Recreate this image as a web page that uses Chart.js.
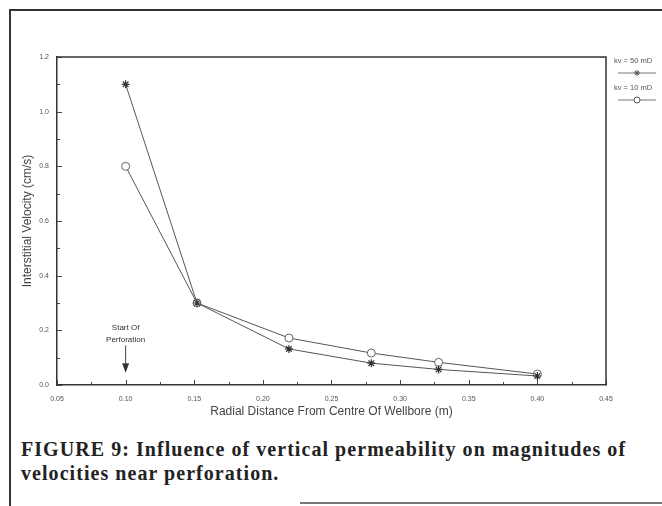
<!DOCTYPE html>
<html>
<head>
<meta charset="utf-8">
<script src="https://cdn.jsdelivr.net/npm/chart.js@4"></script>
<style>
  body { margin: 0; background: #fff; }
  #page { position: relative; width: 662px; height: 506px; overflow: hidden; }
  #wrap { position: absolute; left: 0; top: 0; width: 662px; height: 430px; }
  .frame-top { position: absolute; left: 9px; top: 9px; width: 660px; height: 2px; background: #333; }
  .frame-left { position: absolute; left: 9px; top: 9px; width: 2px; height: 500px; background: #333; }
  .frame-bottom { position: absolute; left: 300px; top: 502px; width: 362px; height: 2px; background: #777; }
  #caption { position: absolute; left: 21px; top: 437px; font-family: "Liberation Serif", "DejaVu Serif", serif;
    font-weight: bold; font-size: 20px; letter-spacing: 1.05px; line-height: 24px; color: #222; white-space: nowrap; }
</style>
</head>
<body>
<div id="page">
  <div class="frame-top"></div>
  <div class="frame-left"></div>
  <div class="frame-bottom"></div>
  <div id="wrap"><canvas id="velChart"></canvas></div>
  <div id="caption">FIGURE 9: Influence of vertical permeability on magnitudes of<br>velocities near perforation.</div>
</div>
<script>
// radial distance (m)
var radius = [0.10, 0.152, 0.219, 0.279, 0.328, 0.40];
// interstitial velocity (cm/s)
var kv50 = [1.10, 0.30, 0.132, 0.08, 0.057, 0.033];
var kv10 = [0.80, 0.30, 0.172, 0.117, 0.083, 0.04];
var seriesLabels = ["kv = 50 mD", "kv = 10 mD"];
var xTicks = [0.05, 0.10, 0.15, 0.20, 0.25, 0.30, 0.35, 0.40, 0.45];
var yTicks = [0.0, 0.2, 0.4, 0.6, 0.8, 1.0, 1.2];

function toPoints(xs, ys) {
    return xs.map(function (x, i) { return { x: x, y: ys[i] }; });
}

var lineColor = "#555";
var smallFont = "'Liberation Sans', Arial, sans-serif";

// inner tick marks, legend and the "Start Of Perforation" note
var extras = {
    id: "extras",
    afterDraw: function (chart) {
        var ctx = chart.ctx;
        var xs = chart.scales.x, ys = chart.scales.y;
        var a = chart.chartArea;
        ctx.save();
        ctx.strokeStyle = "#444";
        ctx.lineWidth = 1;
        // y ticks (major every 0.2, minor every 0.1)
        for (var v = 0; v <= 1.2001; v += 0.1) {
            var py = Math.round(ys.getPixelForValue(v)) + 0.5;
            var major = Math.round(v * 10) % 2 === 0;
            ctx.beginPath();
            ctx.moveTo(a.left, py);
            ctx.lineTo(a.left + (major ? 5 : 3), py);
            ctx.stroke();
        }
        // x ticks (major every 0.05, minor every 0.025)
        for (var u = 0.05; u <= 0.4501; u += 0.025) {
            var px = Math.round(xs.getPixelForValue(u)) + 0.5;
            var maj = Math.round(u * 1000) % 50 === 0;
            ctx.beginPath();
            ctx.moveTo(px, a.bottom);
            ctx.lineTo(px, a.bottom - (maj ? 5 : 3));
            ctx.stroke();
        }

        // start of perforation
        var ax = xs.getPixelForValue(radius[0]);
        ctx.fillStyle = "#333";
        ctx.font = "8px " + smallFont;
        ctx.textAlign = "center";
        ctx.textBaseline = "middle";
        ctx.fillText("Start Of", ax, ys.getPixelForValue(0.21));
        ctx.fillText("Perforation", ax, ys.getPixelForValue(0.165));
        ctx.beginPath();
        ctx.moveTo(ax, ys.getPixelForValue(0.145));
        ctx.lineTo(ax, ys.getPixelForValue(0.08));
        ctx.stroke();
        ctx.beginPath();
        ctx.moveTo(ax - 3.5, ys.getPixelForValue(0.08));
        ctx.lineTo(ax + 3.5, ys.getPixelForValue(0.08));
        ctx.lineTo(ax, ys.getPixelForValue(0.045));
        ctx.closePath();
        ctx.fill();

        // legend at the right of the plot
        var lx = a.right + 8;
        ctx.textAlign = "left";
        ctx.font = "7.5px " + smallFont;
        var rows = [
            { label: seriesLabels[0], y: 61, style: "star" },
            { label: seriesLabels[1], y: 88, style: "circle" }
        ];
        rows.forEach(function (r) {
            ctx.fillStyle = "#555";
            ctx.fillText(r.label, lx, r.y);
            var ly = r.y + 12;
            ctx.strokeStyle = "#777";
            ctx.beginPath();
            ctx.moveTo(lx + 4, ly);
            ctx.lineTo(lx + 42, ly);
            ctx.stroke();
            ctx.fillStyle = "#fff";
            ctx.strokeStyle = "#555";
            Chart.helpers.drawPoint(ctx, { pointStyle: r.style, radius: 3, borderWidth: 1 }, lx + 23, ly);
        });
        ctx.restore();
    }
};

var ctx = document.getElementById("velChart").getContext("2d");
var velChart = new Chart(ctx, {
    type: "scatter",
    data: {
        datasets: [
            {
                label: seriesLabels[0],
                data: toPoints(radius, kv50),
                showLine: true,
                borderColor: lineColor,
                borderWidth: 1,
                pointStyle: "star",
                pointRadius: 4,
                pointBorderColor: "#333",
                pointBorderWidth: 1.2,
                tension: 0
            },
            {
                label: seriesLabels[1],
                data: toPoints(radius, kv10),
                showLine: true,
                borderColor: lineColor,
                borderWidth: 1,
                pointStyle: "circle",
                pointRadius: 4,
                pointBackgroundColor: "#fff",
                pointBorderColor: "#666",
                pointBorderWidth: 1,
                tension: 0
            }
        ]
    },
    options: {
        responsive: true,
        maintainAspectRatio: false,
        animation: false,
        layout: { padding: { top: 57, right: 56, left: 20, bottom: 11 } },
        plugins: {
            legend: { display: false },
            tooltip: { enabled: false }
        },
        scales: {
            x: {
                type: "linear",
                min: 0.05,
                max: 0.45,
                afterBuildTicks: function (scale) {
                    scale.ticks = xTicks.map(function (v) { return { value: v }; });
                },
                afterFit: function (scale) { scale.height = 34; },
                grid: { display: false },
                border: { display: true, color: "#333", width: 1.5 },
                ticks: {
                    color: "#555",
                    padding: 2,
                    maxRotation: 0,
                    font: { size: 7, family: smallFont },
                    callback: function (v) { return v.toFixed(2); }
                },
                title: {
                    display: true,
                    text: "Radial Distance From Centre Of Wellbore (m)",
                    color: "#444",
                    padding: { top: 2, bottom: 0 },
                    font: { size: 12, family: smallFont }
                }
            },
            y: {
                min: 0,
                max: 1.2,
                afterBuildTicks: function (scale) {
                    scale.ticks = yTicks.map(function (v) { return { value: v }; });
                },
                afterFit: function (scale) { scale.width = 37; },
                grid: { display: false },
                border: { display: true, color: "#333", width: 1.5 },
                ticks: {
                    color: "#555",
                    padding: 0,
                    font: { size: 7, family: smallFont },
                    callback: function (v) { return v.toFixed(1); }
                },
                title: {
                    display: true,
                    text: "Interstitial Velocity (cm/s)",
                    color: "#444",
                    padding: { top: 0, bottom: 0 },
                    font: { size: 12, family: smallFont }
                }
            }
        }
    },
    plugins: [extras, {
        // top and right sides of the plot box
        id: "box",
        afterDraw: function (chart) {
            var a = chart.chartArea, c = chart.ctx;
            c.save();
            c.strokeStyle = "#333";
            c.lineWidth = 1.5;
            c.beginPath();
            c.moveTo(a.left, a.top);
            c.lineTo(a.right, a.top);
            c.lineTo(a.right, a.bottom);
            c.stroke();
            c.restore();
        }
    }]
});
</script>
</body>
</html>
